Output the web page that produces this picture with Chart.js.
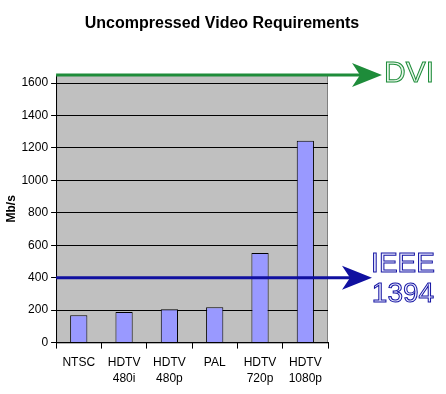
<!DOCTYPE html>
<html>
<head>
<meta charset="utf-8">
<script src="https://cdn.jsdelivr.net/npm/chart.js@4/dist/chart.umd.min.js"></script>
<style>
	html, body { margin: 0; padding: 0; background: #fff; }
	#chart-parent { width: 446px; height: 394px; }
</style>
</head>
<body>
<div id="chart-parent"><canvas id="chart" width="446" height="394"></canvas></div>
<script>
var chartTitle = 'Uncompressed Video Requirements';
var formats = [['NTSC'], ['HDTV', '480i'], ['HDTV', '480p'], ['PAL'], ['HDTV', '720p'], ['HDTV', '1080p']];
var rates = [168, 188, 206, 218, 552, 1245];
var links = ['DVI', 'IEEE 1394'];
var linkRates = [1650, 400];
var linkColors = ['#1e8c3a', '#1010a0'];

Chart.defaults.font.family = 'Arial, "Liberation Sans", sans-serif';
Chart.defaults.color = '#000';

function drawArrow(ctx, x1, x2, y, color) {
	ctx.save();
	ctx.strokeStyle = color;
	ctx.fillStyle = color;
	ctx.lineWidth = 3;
	ctx.beginPath();
	ctx.moveTo(x1, y);
	ctx.lineTo(x2 - 20, y);
	ctx.stroke();
	ctx.beginPath();
	ctx.moveTo(x2, y);
	ctx.lineTo(x2 - 30, y - 12);
	ctx.lineTo(x2 - 22, y);
	ctx.lineTo(x2 - 30, y + 12);
	ctx.closePath();
	ctx.fill();
	ctx.restore();
}

function outlineText(ctx, text, x, y, size, color, fill) {
	ctx.save();
	ctx.font = size + 'px Arial, "Liberation Sans", sans-serif';
	ctx.textAlign = 'center';
	ctx.textBaseline = 'middle';
	ctx.fillStyle = fill;
	ctx.strokeStyle = color;
	ctx.lineWidth = 1;
	ctx.fillText(text, x, y);
	ctx.strokeText(text, x, y);
	ctx.restore();
}

var plotBackground = {
	id: 'plotBackground',
	beforeDraw: function(chart) {
		var a = chart.chartArea;
		var ctx = chart.ctx;
		ctx.save();
		ctx.fillStyle = '#c0c0c0';
		ctx.fillRect(a.left, a.top, a.right - a.left, a.bottom - a.top);
		ctx.strokeStyle = '#808080';
		ctx.lineWidth = 1;
		ctx.strokeRect(a.left + 0.5, a.top + 0.5, a.right - a.left - 1, a.bottom - a.top);
		ctx.restore();
	},
	afterDraw: function(chart) {
		var a = chart.chartArea;
		var ctx = chart.ctx;
		var y = chart.scales.y;
		ctx.save();
		ctx.font = 'bold 16px Arial, "Liberation Sans", sans-serif';
		ctx.fillStyle = '#000';
		ctx.textAlign = 'center';
		ctx.textBaseline = 'middle';
		ctx.fillText(chartTitle, 222, 24);
		ctx.restore();

		var yDvi = y.getPixelForValue(linkRates[0]);
		var yIeee = y.getPixelForValue(linkRates[1]);
		drawArrow(ctx, a.left, a.right + 54, yDvi, linkColors[0]);
		outlineText(ctx, links[0], a.right + 81, yDvi - 1, 30, linkColors[0], '#e8f6ea');
		drawArrow(ctx, a.left, a.right + 44, yIeee, linkColors[1]);
		var parts = links[1].split(' ');
		outlineText(ctx, parts[0], a.right + 75, yIeee - 13, 28, linkColors[1], '#ececff');
		outlineText(ctx, parts[1], a.right + 75, yIeee + 17, 28, linkColors[1], '#ececff');
	}
};

new Chart(document.getElementById('chart'), {
	type: 'bar',
	data: {
		labels: formats,
		datasets: [{
			data: rates,
			backgroundColor: '#9999ff',
			borderColor: '#000',
			borderWidth: 1,
			categoryPercentage: 1,
			barPercentage: 0.38
		}]
	},
	options: {
		responsive: false,
		animation: false,
		layout: { padding: { left: 4, right: 118, top: 75, bottom: 1 } },
		plugins: {
			legend: { display: false },
			tooltip: { enabled: false },
			title: { display: false }
		},
		scales: {
			x: {
				grid: { offset: true, drawOnChartArea: false, tickLength: 6, color: '#000' },
				border: { color: '#000' },
				ticks: { font: { size: 12, lineHeight: 1.35 }, padding: 6, maxRotation: 0 }
			},
			y: {
				min: 0,
				max: 1650,
				grid: { color: '#000', tickLength: 5 },
				border: { color: '#000' },
				ticks: {
					stepSize: 200,
					includeBounds: false,
					font: { size: 12 },
					padding: 3,
					callback: function(v) { return String(v); }
				},
				title: { display: true, text: 'Mb/s', font: { size: 12, weight: 'bold' }, padding: 0 }
			}
		}
	},
	plugins: [plotBackground]
});
</script>
</body>
</html>
